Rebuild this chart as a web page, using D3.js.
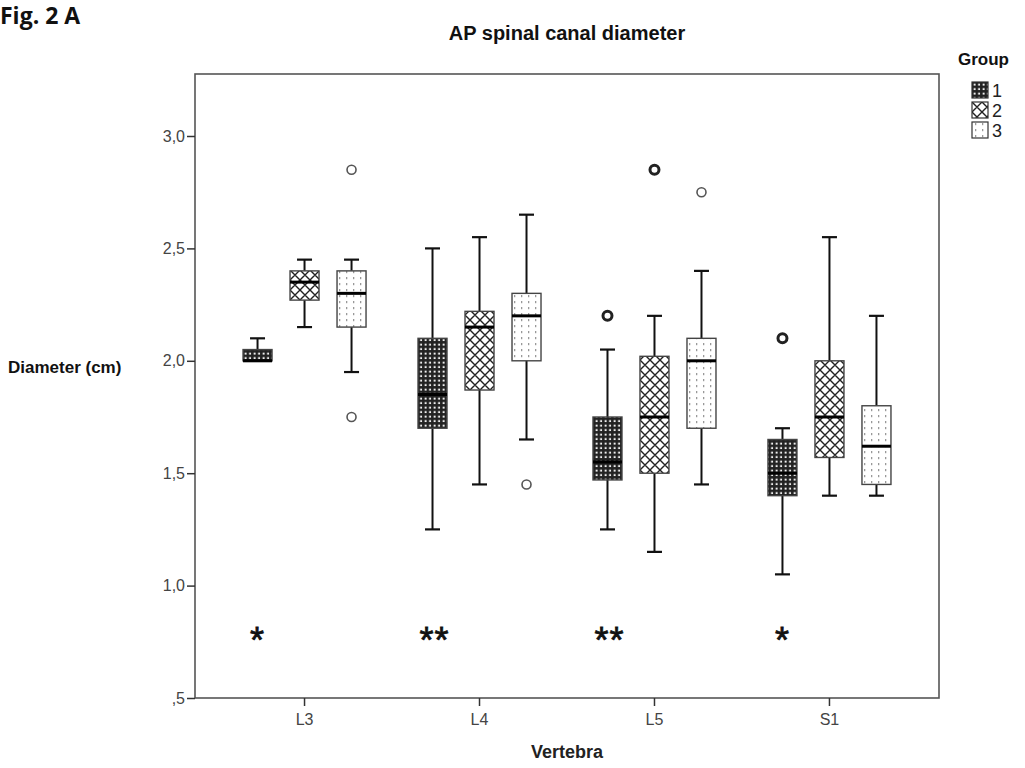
<!DOCTYPE html>
<html>
<head>
<meta charset="utf-8">
<script src="https://cdn.jsdelivr.net/npm/d3@7"></script>
<style>
  body { margin: 0; background: #fff; }
  svg { display: block; font-family: "Liberation Sans", Arial, sans-serif; }
</style>
</head>
<body>
<div id="chart"></div>
<script>
// categories and groups
const vertebrae = ["L3", "L4", "L5", "S1"];
const groups = ["1", "2", "3"];

// box stats per vertebra, one row per group: [min, q1, median, q3, max]
const statsL3 = [[2.00, 2.00, 2.00, 2.05, 2.10], [2.15, 2.27, 2.35, 2.40, 2.45], [1.95, 2.15, 2.30, 2.40, 2.45]];
const statsL4 = [[1.25, 1.70, 1.85, 2.10, 2.50], [1.45, 1.87, 2.15, 2.22, 2.55], [1.65, 2.00, 2.20, 2.30, 2.65]];
const statsL5 = [[1.25, 1.47, 1.55, 1.75, 2.05], [1.15, 1.50, 1.75, 2.02, 2.20], [1.45, 1.70, 2.00, 2.10, 2.40]];
const statsS1 = [[1.05, 1.40, 1.50, 1.65, 1.70], [1.40, 1.57, 1.75, 2.00, 2.55], [1.40, 1.45, 1.62, 1.80, 2.20]];

// outliers: [vertebra, group, value, overlapping cases]
const outliers = [
  ["L3", "3", 2.85, 1], ["L3", "3", 1.75, 1],
  ["L4", "3", 1.45, 1],
  ["L5", "1", 2.20, 2], ["L5", "2", 2.85, 2], ["L5", "3", 2.75, 1],
  ["S1", "1", 2.10, 2]
];

// significance marks
const sigMarks = ["*", "**", "**", "*"];
const sigLevel = 0.8;

const yTicks = [0.5, 1.0, 1.5, 2.0, 2.5, 3.0];
const yTickLabels = [",5", "1,0", "1,5", "2,0", "2,5", "3,0"];

const statsBy = { L3: statsL3, L4: statsL4, L5: statsL5, S1: statsS1 };
const boxes = vertebrae.flatMap(v => statsBy[v].map((s, i) => ({
  vert: v, group: groups[i], min: s[0], q1: s[1], med: s[2], q3: s[3], max: s[4]
})));

const W = 1025, H = 768;
const plot = { l: 195, r: 939, t: 74, b: 698 };

const svg = d3.select("#chart").append("svg")
  .attr("width", W).attr("height", H);

const defs = svg.append("defs");

// group 1: dark mesh
const p1 = defs.append("pattern").attr("id", "pat1")
  .attr("patternUnits", "userSpaceOnUse").attr("width", 4.5).attr("height", 4.5);
p1.append("rect").attr("width", 4.5).attr("height", 4.5).attr("fill", "#222");
p1.append("rect").attr("x", 1.6).attr("y", 1.6).attr("width", 2).attr("height", 2).attr("fill", "#eee");

// group 2: diamond crosshatch
const p2 = defs.append("pattern").attr("id", "pat2")
  .attr("patternUnits", "userSpaceOnUse").attr("width", 10).attr("height", 10);
p2.append("rect").attr("width", 10).attr("height", 10).attr("fill", "#fff");
p2.append("path").attr("d", "M0,0L10,10M10,0L0,10M-5,5L5,15M5,-5L15,5M-5,5L5,-5M5,15L15,5")
  .attr("stroke", "#222").attr("stroke-width", 1.4).attr("fill", "none");

// group 3: dotted columns
const p3 = defs.append("pattern").attr("id", "pat3")
  .attr("patternUnits", "userSpaceOnUse").attr("width", 7).attr("height", 6);
p3.append("rect").attr("width", 7).attr("height", 6).attr("fill", "#fff");
p3.append("rect").attr("x", 3).attr("y", 1).attr("width", 1.3).attr("height", 2.2).attr("fill", "#999");

const fills = { "1": "url(#pat1)", "2": "url(#pat2)", "3": "url(#pat3)" };

const x = d3.scaleBand().domain(vertebrae).range([plot.l, plot.r])
  .paddingInner(0).paddingOuter(0.126);
const xg = d3.scaleBand().domain(groups).range([-70.5, 70.5]);
const y = d3.scaleLinear().domain([0.5, 0.5 + (plot.b - plot.t) / 224.8]).range([plot.b, plot.t]);

const cx = (v, g) => x(v) + x.bandwidth() / 2 + xg(g) + xg.bandwidth() / 2;
const boxW = 29, capW = 15;

// frame
svg.append("rect")
  .attr("x", plot.l).attr("y", plot.t)
  .attr("width", plot.r - plot.l).attr("height", plot.b - plot.t)
  .attr("fill", "none").attr("stroke", "#555").attr("stroke-width", 1.6);

// y axis
const yAxis = svg.append("g").attr("transform", `translate(${plot.l},0)`)
  .call(d3.axisLeft(y).tickValues(yTicks).tickSize(8)
    .tickFormat((d, i) => yTickLabels[i]));
yAxis.select(".domain").remove();
yAxis.selectAll("line").attr("stroke", "#333").attr("stroke-width", 1.5);
yAxis.selectAll("text").attr("fill", "#444").attr("font-size", 16)
  .attr("font-family", "Liberation Sans, Arial, sans-serif").attr("x", -10);

// x axis
const xAxis = svg.append("g").attr("transform", `translate(0,${plot.b})`)
  .call(d3.axisBottom(x).tickSize(8).tickPadding(8));
xAxis.select(".domain").remove();
xAxis.selectAll("line").attr("stroke", "#333").attr("stroke-width", 1.5);
xAxis.selectAll("text").attr("fill", "#444").attr("font-size", 16)
  .attr("font-family", "Liberation Sans Narrow, Liberation Sans, Arial, sans-serif");

// whiskers
const gBox = svg.append("g");
const bx = gBox.selectAll("g.box").data(boxes).join("g").attr("class", "box");

bx.append("line")
  .attr("x1", d => cx(d.vert, d.group)).attr("x2", d => cx(d.vert, d.group))
  .attr("y1", d => y(d.max)).attr("y2", d => y(d.q3))
  .attr("stroke", "#111").attr("stroke-width", 2);
bx.append("line")
  .attr("x1", d => cx(d.vert, d.group)).attr("x2", d => cx(d.vert, d.group))
  .attr("y1", d => y(d.q1)).attr("y2", d => y(d.min))
  .attr("stroke", "#111").attr("stroke-width", 2);
bx.append("line")
  .attr("x1", d => cx(d.vert, d.group) - capW / 2).attr("x2", d => cx(d.vert, d.group) + capW / 2)
  .attr("y1", d => y(d.max)).attr("y2", d => y(d.max))
  .attr("stroke", "#111").attr("stroke-width", 2.2);
bx.append("line")
  .attr("x1", d => cx(d.vert, d.group) - capW / 2).attr("x2", d => cx(d.vert, d.group) + capW / 2)
  .attr("y1", d => y(d.min)).attr("y2", d => y(d.min))
  .attr("stroke", "#111").attr("stroke-width", 2.2);

bx.append("rect")
  .attr("x", d => cx(d.vert, d.group) - boxW / 2)
  .attr("y", d => y(d.q3))
  .attr("width", boxW)
  .attr("height", d => Math.max(1, y(d.q1) - y(d.q3)))
  .attr("fill", d => fills[d.group])
  .attr("stroke", "#444").attr("stroke-width", 1.4);

bx.append("line")
  .attr("x1", d => cx(d.vert, d.group) - boxW / 2).attr("x2", d => cx(d.vert, d.group) + boxW / 2)
  .attr("y1", d => y(d.med)).attr("y2", d => y(d.med))
  .attr("stroke", "#000").attr("stroke-width", 3);

// outliers
svg.append("g").selectAll("circle").data(outliers).join("circle")
  .attr("cx", d => cx(d[0], d[1]))
  .attr("cy", d => y(d[2]))
  .attr("r", 4.5)
  .attr("fill", "#fff")
  .attr("stroke", d => d[3] > 1 ? "#222" : "#555")
  .attr("stroke-width", d => d[3] > 1 ? 3 : 1.6);

// significance asterisks
svg.append("g").selectAll("text").data(vertebrae).join("text")
  .attr("x", (d, i) => cx(d, "1") + (sigMarks[i].length > 1 ? 2 : 0))
  .attr("y", y(sigLevel) + 22)
  .attr("text-anchor", "middle")
  .attr("font-size", 36)
  .attr("font-weight", 400)
  .attr("stroke", "#111").attr("stroke-width", 0.8)
  .attr("letter-spacing", 1)
  .attr("font-family", "Liberation Sans, Arial, sans-serif")
  .attr("fill", "#111")
  .text((d, i) => sigMarks[i]);

// titles
svg.append("text")
  .attr("x", 567).attr("y", 40)
  .attr("text-anchor", "middle")
  .attr("font-size", 20).attr("font-weight", 700)
  .attr("fill", "#111")
  .text("AP spinal canal diameter");

svg.append("text")
  .attr("x", 0).attr("y", 24)
  .attr("font-size", 23).attr("font-weight", 700)
  .attr("font-family", "Open Sans, Liberation Sans, sans-serif")
  .attr("fill", "#111")
  .text("Fig. 2 A");

svg.append("text")
  .attr("x", 8).attr("y", 373)
  .attr("font-size", 17).attr("font-weight", 700)
  .attr("fill", "#111")
  .text("Diameter (cm)");

svg.append("text")
  .attr("x", 567).attr("y", 758)
  .attr("text-anchor", "middle")
  .attr("font-size", 18).attr("font-weight", 700)
  .attr("fill", "#222")
  .text("Vertebra");

// legend
const lg = svg.append("g").attr("transform", "translate(958,0)");
lg.append("text").attr("x", 0).attr("y", 65)
  .attr("font-size", 17).attr("font-weight", 700).attr("fill", "#111")
  .text("Group");
const li = lg.selectAll("g.item").data(groups).join("g").attr("class", "item")
  .attr("transform", (d, i) => `translate(14,${82 + i * 20})`);
li.append("rect").attr("width", 16).attr("height", 16)
  .attr("fill", d => fills[d]).attr("stroke", "#333").attr("stroke-width", 1.2);
li.append("text").attr("x", 20).attr("y", 15)
  .attr("font-size", 18).attr("fill", "#222")
  .text(d => d);
</script>
</body>
</html>
